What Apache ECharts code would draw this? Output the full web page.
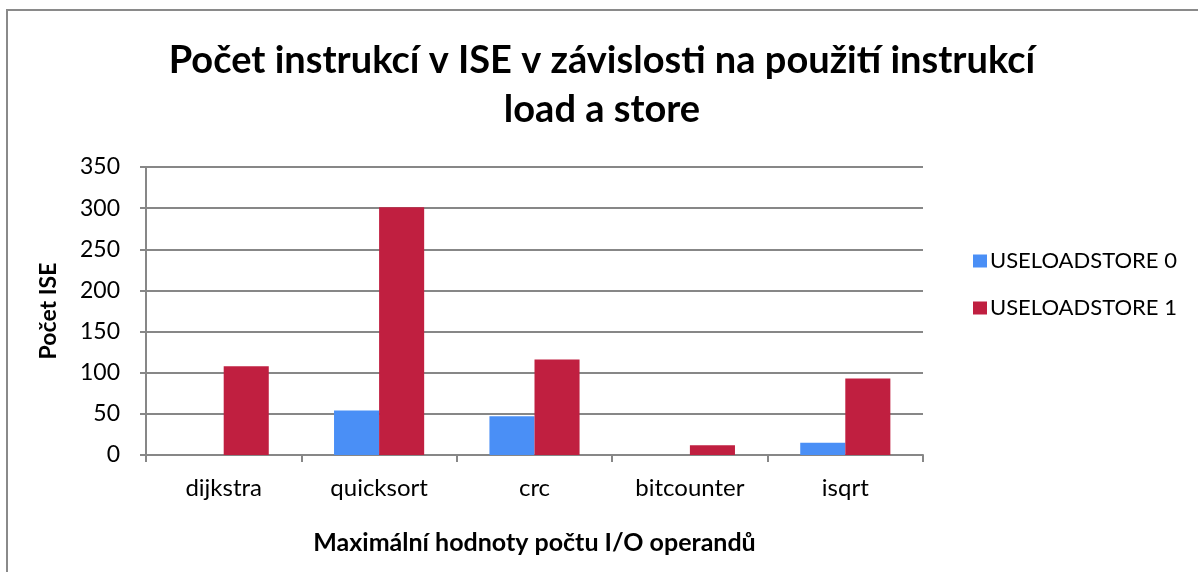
<!DOCTYPE html>
<html>
<head>
<meta charset="utf-8">
<script src="https://cdn.jsdelivr.net/npm/echarts@6/dist/echarts.min.js"></script>
<style>
  html, body { margin: 0; padding: 0; background: #fff; }
  #chart { width: 1198px; height: 572px; }
</style>
</head>
<body>
<div id="chart"></div>
<script>
    // data
    var categories = ['dijkstra', 'quicksort', 'crc', 'bitcounter', 'isqrt'];
    var useLoadStore0 = [0, 54, 47, 0, 15];
    var useLoadStore1 = [108, 301, 116, 12, 93];
    var seriesNames = ['USELOADSTORE 0', 'USELOADSTORE 1'];

    var font = 'Lato, "Open Sans", sans-serif';
    var grey = '#878787';

    var myChart = echarts.init(document.getElementById('chart'));
    var option = {
        animation: false,
        backgroundColor: '#fff',
        textStyle: { fontFamily: font },
        title: {
            text: 'Počet instrukcí v ISE v závislosti na použití instrukcí\nload a store',
            left: 597,
            textAlign: 'center',
            top: 31,
            textStyle: {
                fontFamily: font,
                fontSize: 38,
                fontWeight: 'bold',
                color: '#000',
                lineHeight: 49
            }
        },
        // outer chart border, right and bottom edges fall outside the picture
        graphic: [
            {
                type: 'rect',
                shape: { x: 7, y: 10, width: 1250, height: 640 },
                style: { fill: 'none', stroke: '#8a8a8a', lineWidth: 2 },
                silent: true
            }
        ],
        legend: {
            orient: 'vertical',
            left: 968,
            top: 245,
            itemWidth: 14,
            itemHeight: 13,
            itemGap: 25,
            icon: 'rect',
            textStyle: { fontFamily: font, fontSize: 22, color: '#000', padding: [0, 0, 0, -2] },
            data: seriesNames
        },
        grid: {
            left: 146,
            right: 275,
            top: 167,
            bottom: 117,
            containLabel: false
        },
        xAxis: [
            {
                type: 'category',
                data: categories,
                name: 'Maximální hodnoty počtu I/O operandů',
                nameLocation: 'middle',
                nameGap: 75,
                nameTextStyle: { fontFamily: font, fontSize: 25, fontWeight: 'bold', color: '#000' },
                axisLine: { lineStyle: { color: grey, width: 2 } },
                axisTick: { show: true, length: 7, alignWithLabel: false, lineStyle: { color: grey, width: 2 } },
                axisLabel: { fontFamily: font, fontSize: 24, color: '#000', margin: 21 }
            }
        ],
        yAxis: [
            {
                type: 'value',
                min: 0,
                max: 350,
                interval: 50,
                name: 'Počet ISE',
                nameLocation: 'middle',
                nameGap: 86,
                nameRotate: 90,
                nameTextStyle: { fontFamily: font, fontSize: 23, fontWeight: 'bold', color: '#000' },
                axisLine: { show: true, lineStyle: { color: grey, width: 2 } },
                axisTick: { show: true, length: 6, lineStyle: { color: grey, width: 2 } },
                axisLabel: { fontFamily: font, fontSize: 23, color: '#000', margin: 26 },
                splitLine: { lineStyle: { color: grey, width: 2 } }
            }
        ],
        series: [
            {
                name: seriesNames[0],
                type: 'bar',
                barGap: '0%',
                barCategoryGap: '42%',
                itemStyle: { color: '#4A8FF6' },
                data: useLoadStore0
            },
            {
                name: seriesNames[1],
                type: 'bar',
                barGap: '0%',
                barCategoryGap: '42%',
                itemStyle: { color: '#C01F40' },
                data: useLoadStore1
            }
        ]
    };
    myChart.setOption(option);
</script>
</body>
</html>
